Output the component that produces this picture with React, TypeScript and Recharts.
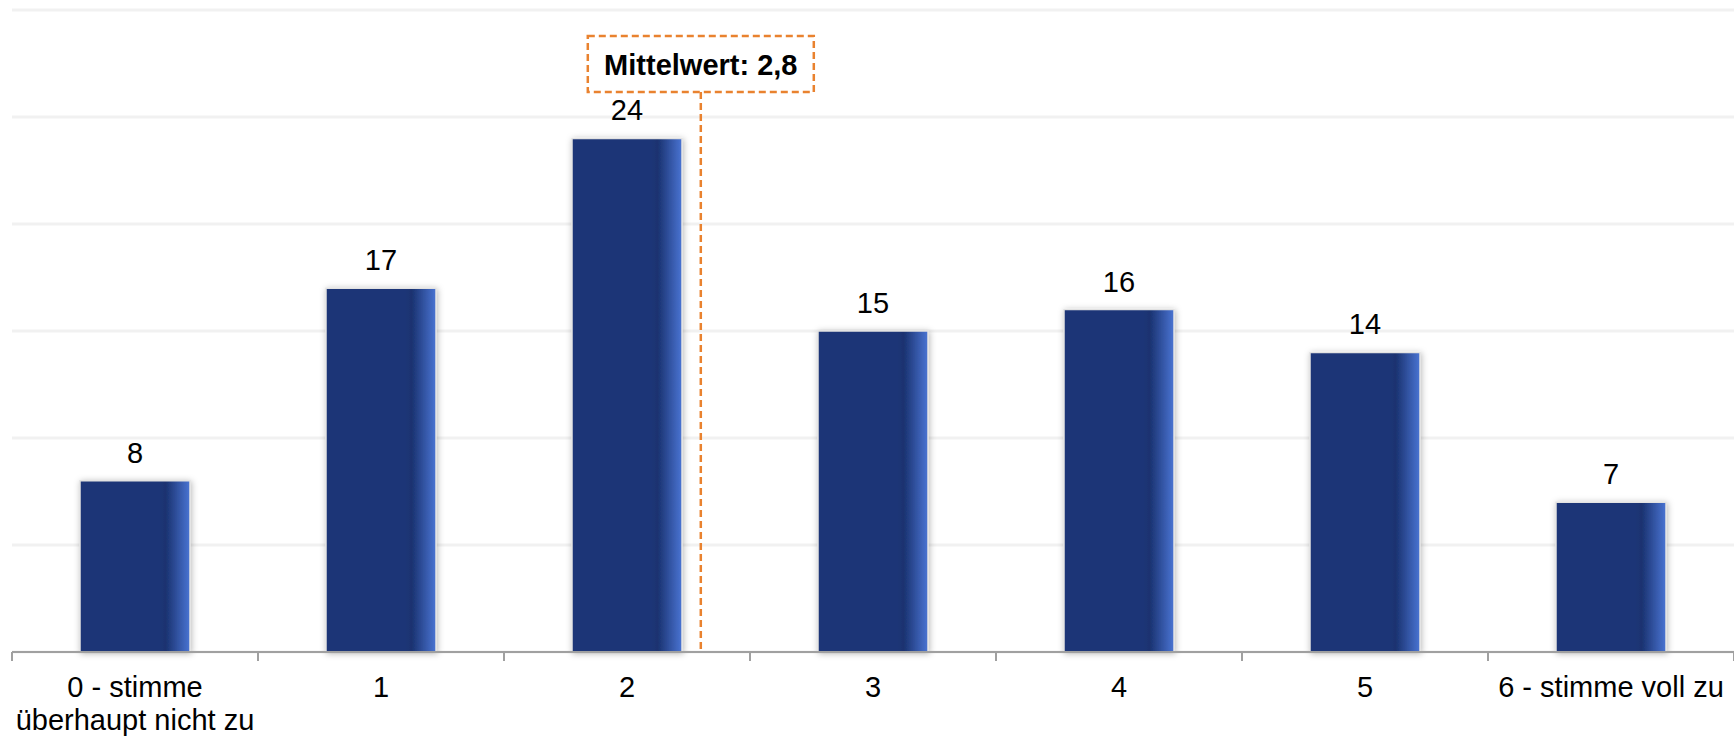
import { BarChart, Bar, XAxis, YAxis, CartesianGrid, LabelList, ReferenceLine } from "recharts";

const categories = ["0 - stimme überhaupt nicht zu", "1", "2", "3", "4", "5", "6 - stimme voll zu"];
const counts = [8, 17, 24, 15, 16, 14, 7];
const yTicks = [0, 5, 10, 15, 20, 25, 30];
// slot boundaries (tick marks) and slot centres (labels) on a 0..7 scale
const slotTicks = [0, 0.5, 1, 1.5, 2, 2.5, 3, 3.5, 4, 4.5, 5, 5.5, 6, 6.5, 7];
const meanValue = 2.8;
const meanLabel = "Mittelwert: 2,8";

const data = categories.map((name, i) => ({ name, value: counts[i], pos: i + 0.5 }));

const FONT = "'Liberation Sans', Arial, sans-serif";
const ORANGE = "#e9822f";
const AXIS_GREY = "#a0a0a0";
const LABEL_SIZE = 29;

let measureCtx: CanvasRenderingContext2D | null = null;
function wrapLabel(text: string, maxWidth: number): string[] {
    if (!measureCtx) measureCtx = document.createElement("canvas").getContext("2d");
    if (!measureCtx) return [text];
    measureCtx.font = `${LABEL_SIZE}px ${FONT}`;
    const lines: string[] = [];
    let line = "";
    for (const word of text.split(" ")) {
        const next = line ? `${line} ${word}` : word;
        if (line && measureCtx.measureText(next).width > maxWidth) {
            lines.push(line);
            line = word;
        } else {
            line = next;
        }
    }
    if (line) lines.push(line);
    return lines;
}

// integer ticks get a short mark, half ticks carry the category name
function SlotTick(props: any) {
    const { x, y, payload } = props;
    const v = Number(payload.value);
    if (Number.isInteger(v)) {
        return <line x1={x} y1={y} x2={x} y2={y + 9} stroke={AXIS_GREY} strokeWidth={2} />;
    }
    const name = categories[Math.floor(v)];
    const lines = wrapLabel(name, 244);
    return (
        <text x={x} y={y} textAnchor="middle" fontSize={LABEL_SIZE} fontFamily={FONT} fill="#000">
            {lines.map((l, i) => (
                <tspan key={i} x={x} dy={i === 0 ? 45 : 33}>
                    {l}
                </tspan>
            ))}
        </text>
    );
}

// dashed mean marker with its boxed caption
function MeanLine(props: any) {
    const { x1, y1, y2 } = props;
    const top = Math.min(y1, y2);
    const bottom = Math.max(y1, y2);
    const boxW = 226;
    const boxH = 56;
    const boxTop = top + 26;
    return (
        <g>
            <line x1={x1} y1={boxTop + boxH} x2={x1} y2={bottom} stroke={ORANGE} strokeWidth={2.5} strokeDasharray="7 4" />
            <rect
                x={x1 - boxW / 2}
                y={boxTop}
                width={boxW}
                height={boxH}
                fill="#fff"
                stroke={ORANGE}
                strokeWidth={2.5}
                strokeDasharray="7 4"
            />
            <text x={x1} y={boxTop + 39} textAnchor="middle" fontSize={29} fontWeight="bold" fontFamily={FONT} fill="#000">
                {meanLabel}
            </text>
        </g>
    );
}

export default function App() {
    return (
        <div style={{ position: "absolute", left: 0, top: 0, background: "#fff" }}>
            <BarChart width={1734} height={737} data={data} margin={{ top: 10, right: 0, left: 12, bottom: 0 }}>
                <defs>
                    <linearGradient id="barFill" x1="0" y1="0" x2="1" y2="0">
                        <stop offset="0%" stopColor="#1c3677" />
                        <stop offset="72%" stopColor="#1c3677" />
                        <stop offset="78%" stopColor="#1a3270" />
                        <stop offset="100%" stopColor="#4a74d3" />
                    </linearGradient>
                    <filter id="barShadow" x="-20%" y="-20%" width="140%" height="140%">
                        <feDropShadow dx="1" dy="1" stdDeviation="3" floodColor="#000" floodOpacity="0.28" />
                    </filter>
                </defs>
                <CartesianGrid horizontal vertical={false} stroke="#f1f1f1" strokeWidth={3} />
                <YAxis hide domain={[0, 30]} ticks={yTicks} />
                <XAxis dataKey="name" hide height={0} />
                <XAxis
                    xAxisId="slots"
                    dataKey="pos"
                    type="number"
                    domain={[0, 7]}
                    ticks={slotTicks}
                    allowDataOverflow
                    interval={0}
                    height={85}
                    axisLine={{ stroke: AXIS_GREY, strokeWidth: 2 }}
                    tickLine={false}
                    tickSize={0}
                    tickMargin={0}
                    tick={<SlotTick />}
                />
                <Bar
                    dataKey="value"
                    barSize={110}
                    fill="url(#barFill)"
                    stroke="#e2e2e2"
                    strokeWidth={1.5}
                    filter="url(#barShadow)"
                    isAnimationActive={false}
                >
                    <LabelList dataKey="value" position="top" offset={18} fontSize={29} fontFamily={FONT} fill="#000" />
                </Bar>
                <ReferenceLine xAxisId="slots" x={meanValue} shape={<MeanLine />} />
            </BarChart>
        </div>
    );
}
